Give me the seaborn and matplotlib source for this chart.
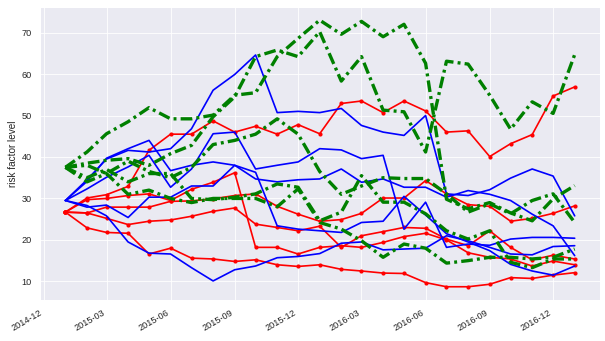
import numpy as np
import pandas as pd
import matplotlib
matplotlib.use("Agg")
import matplotlib.pyplot as plt
import matplotlib.dates as mdates
import seaborn as sns

dates = pd.date_range("2015-01-01", periods=25, freq="MS")

red_1 = [26.7, 30.1, 30.9, 32.9, 41.6, 45.5, 45.5, 48.7, 46.0, 47.4, 45.5, 47.8, 45.6, 52.9, 53.5, 50.7, 53.5, 51.1, 46.0, 46.3, 40.1, 43.2, 45.4, 54.7, 56.9]
red_2 = [26.7, 29.7, 30.0, 30.7, 31.1, 29.5, 32.2, 33.9, 36.2, 18.2, 18.2, 16.6, 18.2, 18.6, 18.2, 19.4, 20.8, 21.6, 20.0, 16.9, 15.8, 15.4, 13.7, 14.9, 14.0]
red_3 = [26.7, 26.5, 27.9, 27.9, 27.9, 29.3, 29.4, 29.9, 30.7, 31.1, 28.1, 26.2, 24.5, 24.9, 26.4, 30.1, 30.1, 34.3, 31.1, 28.5, 28.1, 24.5, 25.2, 26.4, 28.2]
red_4 = [26.7, 26.5, 25.2, 23.7, 24.5, 24.8, 25.7, 26.9, 27.7, 23.8, 23.0, 22.2, 23.3, 18.2, 21.0, 22.0, 23.0, 22.8, 20.2, 18.6, 22.2, 18.2, 15.2, 16.3, 15.4]
red_5 = [26.7, 22.9, 21.8, 21.6, 16.6, 18.0, 15.6, 15.4, 14.8, 15.2, 14.0, 13.6, 14.0, 12.9, 12.5, 12.0, 11.9, 9.7, 8.7, 8.7, 9.3, 10.9, 10.7, 11.5, 12.1]

blue_1 = [29.5, 34.5, 39.5, 41.6, 41.2, 42.0, 46.8, 56.1, 59.9, 64.6, 50.7, 51.0, 50.7, 51.7, 47.6, 46.0, 45.2, 50.0, 31.1, 30.7, 32.1, 34.9, 37.1, 35.4, 25.8]
blue_2 = [29.5, 34.1, 39.7, 42.0, 44.0, 36.7, 38.0, 38.8, 38.0, 34.7, 34.0, 34.5, 34.7, 37.1, 33.9, 34.7, 32.7, 32.7, 30.3, 31.9, 31.0, 29.5, 26.2, 23.4, 16.2]
blue_3 = [29.5, 32.3, 35.1, 37.6, 40.4, 32.7, 37.1, 45.6, 46.0, 37.1, 38.0, 38.8, 42.0, 41.7, 39.6, 40.4, 22.6, 29.1, 18.2, 19.0, 18.7, 20.2, 20.6, 20.6, 20.4]
blue_4 = [29.5, 27.9, 28.4, 25.4, 30.3, 30.3, 33.0, 33.0, 38.0, 36.3, 23.4, 22.6, 22.2, 21.8, 24.2, 24.5, 30.5, 26.0, 21.5, 19.5, 17.4, 14.1, 12.5, 11.5, 13.7]
blue_5 = [29.5, 28.3, 25.8, 19.5, 16.8, 16.6, 13.3, 10.1, 12.8, 13.7, 15.7, 16.0, 16.7, 19.2, 19.5, 17.6, 17.8, 18.0, 21.0, 19.8, 18.2, 16.6, 16.4, 18.4, 18.6]

green_1 = [37.5, 41.2, 45.6, 48.5, 51.9, 49.2, 49.2, 50.1, 54.9, 55.5, 64.2, 68.6, 73.0, 69.6, 72.7, 69.0, 72.0, 62.6, 29.8, 27.5, 29.0, 26.5, 24.6, 29.9, 33.1]
green_2 = [37.5, 38.5, 39.2, 39.6, 38.0, 40.8, 42.8, 49.7, 54.5, 64.2, 65.8, 64.2, 70.2, 58.3, 64.2, 51.3, 50.9, 41.2, 63.1, 62.4, 54.9, 46.7, 53.3, 50.5, 64.7]
green_3 = [37.5, 38.0, 36.0, 39.0, 36.5, 35.0, 37.5, 43.0, 44.0, 45.5, 49.2, 45.5, 36.5, 31.0, 33.0, 35.0, 34.8, 34.8, 31.1, 26.7, 28.7, 26.3, 29.5, 31.1, 24.2]
green_4 = [37.5, 35.0, 37.0, 34.0, 36.0, 36.0, 30.0, 29.7, 30.3, 31.1, 33.5, 32.7, 24.6, 26.7, 35.5, 29.1, 29.1, 26.3, 22.2, 20.2, 22.2, 14.6, 13.3, 15.4, 15.4]
green_5 = [37.5, 34.0, 36.0, 31.0, 32.0, 30.0, 29.0, 30.0, 30.0, 30.0, 28.0, 32.3, 24.2, 22.6, 19.8, 15.8, 19.0, 18.0, 14.4, 15.0, 15.8, 15.8, 15.4, 15.8, 17.8]

reds = [red_1, red_2, red_3, red_4, red_5]
blues = [blue_1, blue_2, blue_3, blue_4, blue_5]
greens = [green_1, green_2, green_3, green_4, green_5]

sns.set_theme(style="darkgrid", context="notebook")
plt.rcParams["font.family"] = ["Liberation Sans", "DejaVu Sans"]
plt.rcParams["lines.scale_dashes"] = False

fig, ax = plt.subplots(figsize=(605 / 60, 341 / 60), dpi=60)

for s in reds:
    sns.lineplot(x=dates, y=s, ax=ax, color="red", linewidth=2, marker="o",
                 markersize=5, markeredgewidth=0)
for s in blues:
    sns.lineplot(x=dates, y=s, ax=ax, color="blue", linewidth=2)
for s in greens:
    sns.lineplot(x=dates, y=s, ax=ax, color="green", linewidth=4,
                 linestyle=(0, (14, 5, 3.5, 5)))

ax.set_ylabel("risk factor level")
ax.set_xlabel("")
ax.xaxis.set_major_locator(mdates.MonthLocator(bymonth=[3, 6, 9, 12]))
ax.xaxis.set_major_formatter(mdates.DateFormatter("%Y-%m"))
ax.set_yticks([10, 20, 30, 40, 50, 60, 70])
fig.autofmt_xdate()
fig.subplots_adjust(left=0.066, right=0.992, top=0.980, bottom=0.120)
fig.savefig("out.png", dpi=60)
